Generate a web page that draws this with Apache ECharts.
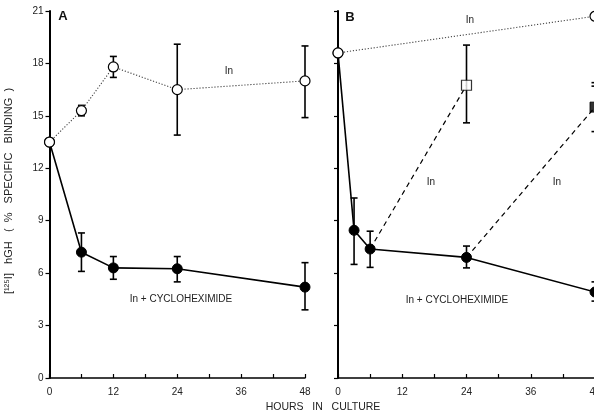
<!DOCTYPE html>
<html><head><meta charset="utf-8">
<script src="https://cdn.jsdelivr.net/npm/echarts@6/dist/echarts.min.js"></script>
<style>html,body{margin:0;padding:0;background:#fff}#c{width:594px;height:415px}</style>
</head><body><div id="c"></div>
<script>
// ---- data ----
const xTicks = [0, 12, 24, 36, 48];
const yTicks = [0, 3, 6, 9, 12, 15, 18, 21];
// Panel A
const inA = [[0, 13.5], [6, 15.3], [12, 17.8], [24, 16.5], [48, 17.0]];
const inErrA = [[6, 15.0, 15.6], [12, 17.2, 18.4], [24, 13.9, 19.1], [48, 14.9, 19.0]];
const chxA = [[0, 13.5], [6, 7.2], [12, 6.3], [24, 6.25], [48, 5.2]];
const chxErrA = [[6, 6.1, 8.3], [12, 5.65, 6.95], [24, 5.5, 6.95], [48, 3.9, 6.6]];
// Panel B
const inB = [[0, 18.6], [48, 20.7]];
const inErrB = [[48, 16.7, 20.7]];
const chxB = [[0, 18.6], [3, 8.45], [6, 7.38], [24, 6.9], [48, 4.92]];
const chxErrB = [[3, 6.5, 10.3], [6, 6.33, 8.4], [24, 6.3, 7.55], [48, 4.4, 5.5]];
const reAdd6 = [[6, 7.38], [24, 16.75]];
const reAdd6Err = [[24, 14.6, 19.05]];
const reAdd24 = [[24, 6.9], [48, 15.5]];
const reAdd24Err = [[48, 14.1, 16.9]];

const FONT = '"Liberation Sans", Arial, sans-serif';
const chart = echarts.init(document.getElementById('c'), null, {renderer: 'canvas'});

function errSeries(data, xi, yi) {
  return {
    type: 'custom', xAxisIndex: xi, yAxisIndex: yi, data: data, z: 3, silent: true, clip: false,
    renderItem: function (params, api) {
      const x = api.value(0);
      const lo = api.coord([x, api.value(1)]);
      const hi = api.coord([x, api.value(2)]);
      const w = 3.5;
      const st = {stroke: '#000', lineWidth: 1.6};
      return {type: 'group', children: [
        {type: 'line', shape: {x1: lo[0], y1: lo[1], x2: hi[0], y2: hi[1]}, style: st},
        {type: 'line', shape: {x1: lo[0] - w, y1: lo[1], x2: lo[0] + w, y2: lo[1]}, style: st},
        {type: 'line', shape: {x1: hi[0] - w, y1: hi[1], x2: hi[0] + w, y2: hi[1]}, style: st}
      ]};
    }
  };
}
function xAxis(gi) {
  return {
    type: 'value', gridIndex: gi, min: 0, max: 48, interval: 6,
    axisLine: {lineStyle: {color: '#000', width: 1.5}},
    axisTick: {inside: true, length: 4, lineStyle: {color: '#000', width: 1.2}},
    axisLabel: {color: '#222', fontFamily: FONT, fontSize: 10, margin: 9, hideOverlap: false,
      formatter: v => xTicks.indexOf(v) >= 0 ? String(v) : ''},
    splitLine: {show: false}
  };
}
function yAxis(gi, labels) {
  return {
    type: 'value', gridIndex: gi, min: 0, max: 21, interval: 3,
    axisLine: {lineStyle: {color: '#000', width: 2}},
    axisTick: {length: 4, lineStyle: {color: '#000', width: 1.2}},
    axisLabel: {show: labels, color: '#222', fontFamily: FONT, fontSize: 10, margin: 6,
      formatter: v => yTicks.indexOf(v) >= 0 ? String(v) : ''},
    splitLine: {show: false}
  };
}
const openSym = {color: '#fff', borderColor: '#000', borderWidth: 1.2};
const fillSym = {color: '#000', borderColor: '#000', borderWidth: 1};

chart.setOption({
  animation: false,
  backgroundColor: '#fff',
  grid: [
    {left: 49.5, top: 11, width: 255.5, bottom: 37, containLabel: false, outerBoundsMode: 'none'},
    {left: 338, top: 11, width: 257, bottom: 37, containLabel: false, outerBoundsMode: 'none'}
  ],
  xAxis: [xAxis(0), xAxis(1)],
  yAxis: [yAxis(0, true), yAxis(1, false)],
  series: [
    // Panel A
    {type: 'line', xAxisIndex: 0, yAxisIndex: 0, data: chxA, z: 4,
     lineStyle: {color: '#000', width: 1.6},
     symbol: 'circle', symbolSize: 10, itemStyle: fillSym},
    errSeries(chxErrA, 0, 0),
    {type: 'line', xAxisIndex: 0, yAxisIndex: 0, data: inA, z: 5,
     lineStyle: {color: '#444', width: 1.1, type: [1.2, 1.8]},
     symbol: 'circle', symbolSize: 10, itemStyle: openSym},
    errSeries(inErrA, 0, 0),
    // Panel B
    {type: 'line', xAxisIndex: 1, yAxisIndex: 1, data: reAdd6, z: 2,
     lineStyle: {color: '#000', width: 1.2, type: [5, 4]}, showSymbol: false, symbol: 'none'},
    {type: 'line', xAxisIndex: 1, yAxisIndex: 1, data: reAdd24, z: 2,
     lineStyle: {color: '#000', width: 1.2, type: [5, 4]}, showSymbol: false, symbol: 'none'},
    errSeries(reAdd6Err, 1, 1),
    errSeries(reAdd24Err, 1, 1),
    errSeries(inErrB, 1, 1),
    {type: 'scatter', xAxisIndex: 1, yAxisIndex: 1, data: [reAdd6[1]], z: 5,
     symbol: 'rect', symbolSize: 10, itemStyle: openSym},
    {type: 'scatter', xAxisIndex: 1, yAxisIndex: 1, data: [reAdd24[1]], z: 5,
     symbol: 'rect', symbolSize: 10, itemStyle: fillSym},
    {type: 'line', xAxisIndex: 1, yAxisIndex: 1, data: chxB, z: 4,
     lineStyle: {color: '#000', width: 1.6},
     symbol: 'circle', symbolSize: 10, itemStyle: fillSym},
    errSeries(chxErrB, 1, 1),
    {type: 'line', xAxisIndex: 1, yAxisIndex: 1, data: inB, z: 5,
     lineStyle: {color: '#444', width: 1.1, type: [1.2, 1.8]},
     symbol: 'circle', symbolSize: 10, itemStyle: openSym}
  ],
  graphic: [
    {type: 'text', x: 63, y: 16, style: {text: 'A', font: 'bold 13px ' + FONT, fill: '#111', align: 'center', verticalAlign: 'middle'}},
    {type: 'text', x: 350, y: 17, style: {text: 'B', font: 'bold 13px ' + FONT, fill: '#111', align: 'center', verticalAlign: 'middle'}},
    {type: 'text', x: 229, y: 71, style: {text: 'In', font: '10px ' + FONT, fill: '#222', align: 'center', verticalAlign: 'middle'}},
    {type: 'text', x: 181, y: 299, style: {text: 'In + CYCLOHEXIMIDE', font: '10px ' + FONT, fill: '#222', align: 'center', verticalAlign: 'middle'}},
    {type: 'text', x: 470, y: 20, style: {text: 'In', font: '10px ' + FONT, fill: '#222', align: 'center', verticalAlign: 'middle'}},
    {type: 'text', x: 431, y: 182, style: {text: 'In', font: '10px ' + FONT, fill: '#222', align: 'center', verticalAlign: 'middle'}},
    {type: 'text', x: 557, y: 182, style: {text: 'In', font: '10px ' + FONT, fill: '#222', align: 'center', verticalAlign: 'middle'}},
    {type: 'text', x: 457, y: 300, style: {text: 'In + CYCLOHEXIMIDE', font: '10px ' + FONT, fill: '#222', align: 'center', verticalAlign: 'middle'}},
    {type: 'text', x: 323, y: 407, style: {text: 'HOURS   IN   CULTURE', font: '10.5px ' + FONT, fill: '#222', align: 'center', verticalAlign: 'middle'}},
    {type: 'text', x: 9, y: 191, rotation: Math.PI / 2,
     style: {text: '[\u00B9\u00B2\u2075I]   hGH   (  %   SPECIFIC   BINDING  )', font: '11px ' + FONT, fill: '#222', align: 'center', verticalAlign: 'middle'}}
  ]
});
</script></body></html>
